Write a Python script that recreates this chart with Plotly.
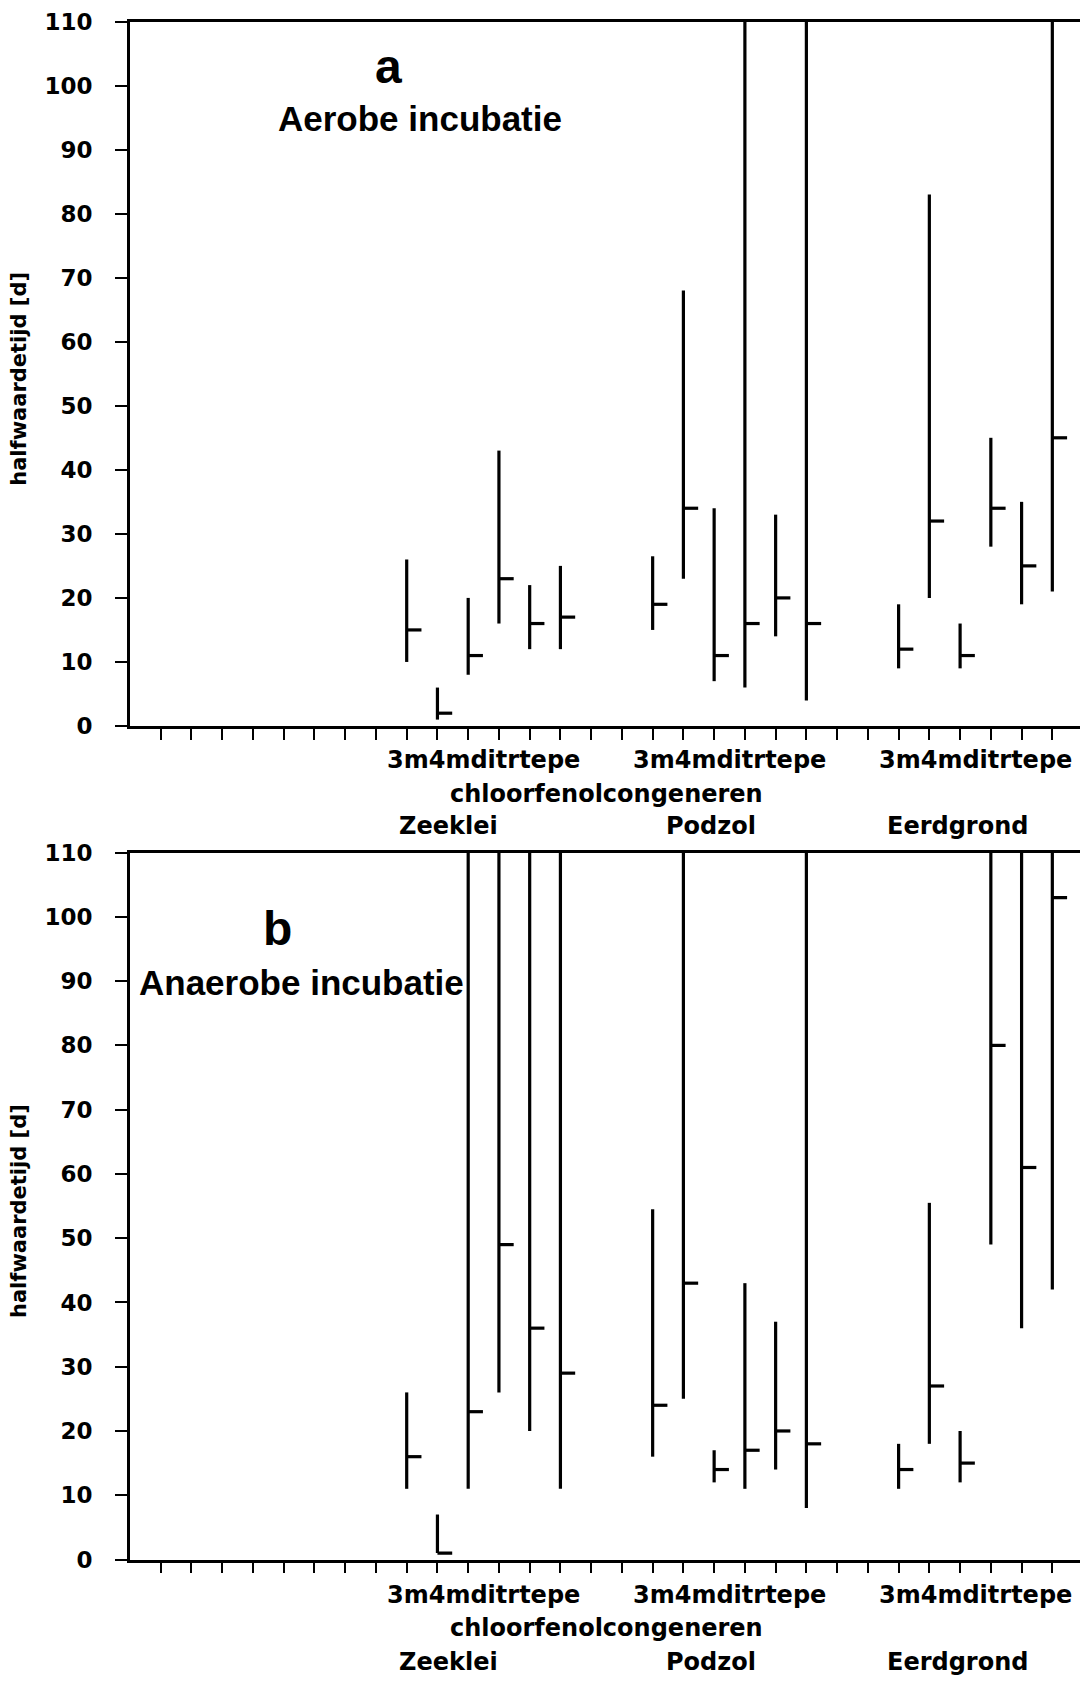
import plotly.graph_objects as go

# ---------------- data ----------------
# positions on the category axis (tick index)
pos_zeeklei = [9, 10, 11, 12, 13, 14]
pos_podzol = [17, 18, 19, 20, 21, 22]
pos_eerdgrond = [25, 26, 27, 28, 29, 30]
positions = pos_zeeklei + pos_podzol + pos_eerdgrond

# panel a: aerobe incubatie (low, high, median) in days
a_low = [10, 1, 8, 16, 12, 12, 15, 23, 7, 6, 14, 4, 9, 20, 9, 28, 19, 21]
a_high = [26, 6, 20, 43, 22, 25, 26.5, 68, 34, 110, 33, 110, 19, 83, 16, 45, 35, 110]
a_med = [15, 2, 11, 23, 16, 17, 19, 34, 11, 16, 20, 16, 12, 32, 11, 34, 25, 45]

# panel b: anaerobe incubatie (low, high, median) in days
b_low = [11, 1, 11, 26, 20, 11, 16, 25, 12, 11, 14, 8, 11, 18, 12, 49, 36, 42]
b_high = [26, 7, 110, 110, 110, 110, 54.5, 110, 17, 43, 37, 110, 18, 55.5, 20, 110, 110, 110]
b_med = [16, 1, 23, 49, 36, 29, 24, 43, 14, 17, 20, 18, 14, 27, 15, 80, 61, 103]

y_ticks = [0, 10, 20, 30, 40, 50, 60, 70, 80, 90, 100, 110]
x_ticks = list(range(1, 31))

group_label = "3m4mditrtepe"
group_centers = [11.5, 19.5, 27.5]
congener_label = "chloorfenolcongeneren"
congener_x = 15.5
soils = ["Zeeklei", "Podzol", "Eerdgrond"]
soil_x = [10.35, 18.9, 26.9]
panel_letters = ["a", "b"]
panel_titles = ["Aerobe incubatie", "Anaerobe incubatie"]
y_title = "halfwaardetijd [d]"

# ---------------- figure ----------------
W, H = 1080, 1682
TICK_W = 0.48  # length of median tick (axis units)


def hlc_xy(xs, lo, hi, med):
    X, Y = [], []
    for x, l, h, m in zip(xs, lo, hi, med):
        X += [x, x, None, x, x + TICK_W, None]
        Y += [l, h, None, m, m, None]
    return X, Y


fig = go.Figure()
xa, ya = hlc_xy(positions, a_low, a_high, a_med)
xb, yb = hlc_xy(positions, b_low, b_high, b_med)
line_style = dict(color="black", width=3.2)
fig.add_trace(go.Scatter(x=xa, y=ya, mode="lines", line=line_style,
                         xaxis="x", yaxis="y", showlegend=False, hoverinfo="skip",
                         cliponaxis=False))
fig.add_trace(go.Scatter(x=xb, y=yb, mode="lines", line=line_style,
                         xaxis="x2", yaxis="y2", showlegend=False, hoverinfo="skip",
                         cliponaxis=False))


def py(px):
    return 1 - px / H


x_dom = [130 / W, 1.0]
xcommon = dict(domain=x_dom, range=[0, 30.9], tickvals=x_ticks, showticklabels=False,
               ticks="outside", ticklen=11, tickwidth=2.2, tickcolor="black",
               showline=True, linewidth=2.8, linecolor="black", mirror=True,
               showgrid=False, zeroline=False, automargin=False)
ycommon = dict(range=[0, 110], tickvals=y_ticks, ticks="outside", ticklen=12,
               tickwidth=2.2, tickcolor="black", showline=True, linewidth=2.8,
               linecolor="black", showgrid=False, zeroline=False, automargin=False,
               ticklabelstandoff=18,
               tickfont=dict(family="DejaVu Sans", size=23, color="black", weight="bold"))

panel_px = [(21.5, 726.0), (852.6, 1559.5)]

fig.update_layout(
    width=W, height=H, margin=dict(l=0, r=0, t=0, b=0, autoexpand=False),
    paper_bgcolor="white", plot_bgcolor="white",
    xaxis=dict(anchor="y", **xcommon),
    yaxis=dict(anchor="x", domain=[py(panel_px[0][1]), py(panel_px[0][0])], **ycommon),
    xaxis2=dict(anchor="y2", **xcommon),
    yaxis2=dict(anchor="x2", domain=[py(panel_px[1][1]), py(panel_px[1][0])], **ycommon),
)

lab_font = dict(family="DejaVu Sans", size=24, color="black", weight="bold")
ann = []
label_rows = [(760, 794, 826), (1595, 1628, 1662)]
for p, (r1, r2, r3) in enumerate(label_rows):
    xr = "x" if p == 0 else "x2"
    for gx in group_centers:
        ann.append(dict(x=gx, y=py(r1), xref=xr, yref="paper", text=group_label,
                        showarrow=False, font=lab_font, xanchor="center", yanchor="middle"))
    ann.append(dict(x=congener_x, y=py(r2), xref=xr, yref="paper", text=congener_label,
                    showarrow=False, font=lab_font, xanchor="center", yanchor="middle"))
    for sx, s in zip(soil_x, soils):
        ann.append(dict(x=sx, y=py(r3), xref=xr, yref="paper", text=s,
                        showarrow=False, font=lab_font, xanchor="center", yanchor="middle"))
    # y-axis title
    cy = (panel_px[p][0] + panel_px[p][1]) / 2 + 5
    ann.append(dict(x=19 / W, y=py(cy), xref="paper", yref="paper", text=y_title,
                    textangle=-90, showarrow=False, xanchor="center", yanchor="middle",
                    font=dict(family="DejaVu Sans", size=21, color="black", weight="bold")))

big = dict(family="Liberation Sans", size=48, color="black", weight="bold")
ttl = dict(family="Liberation Sans", size=35, color="black", weight="bold")
ann.append(dict(x=388 / W, y=py(66), xref="paper", yref="paper", text=panel_letters[0],
                showarrow=False, font=big, xanchor="center", yanchor="middle"))
ann.append(dict(x=420 / W, y=py(119), xref="paper", yref="paper", text=panel_titles[0],
                showarrow=False, font=ttl, xanchor="center", yanchor="middle"))
ann.append(dict(x=277 / W, y=py(928), xref="paper", yref="paper", text=panel_letters[1],
                showarrow=False, font=big, xanchor="center", yanchor="middle"))
ann.append(dict(x=137 / W, y=py(982), xref="paper", yref="paper", text=panel_titles[1],
                showarrow=False, font=ttl, xanchor="left", yanchor="middle"))

fig.update_layout(annotations=ann)
fig.write_html("out.html")
